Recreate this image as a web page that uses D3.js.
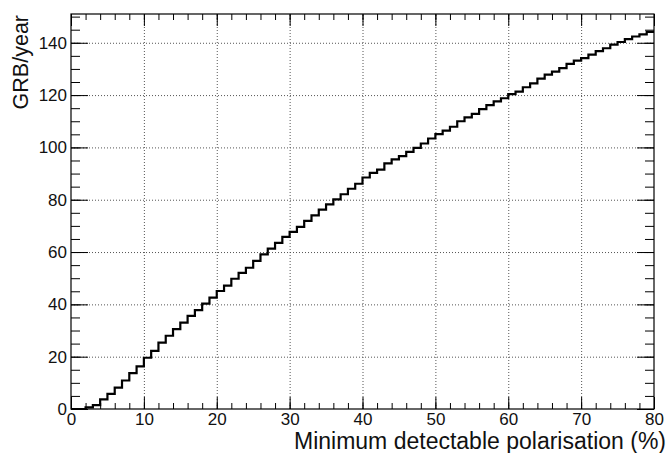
<!DOCTYPE html>
<html>
<head>
<meta charset="utf-8">
<script src="https://cdn.jsdelivr.net/npm/d3@7"></script>
<style>
  body { margin: 0; background: #fff; }
  svg { display: block; }
  .tick text { font-family: "Liberation Sans", Arial, sans-serif; font-size: 17px; fill: #111; }
  .domain { display: none; }
  .grid line { stroke: #555; stroke-dasharray: 1,2; }
</style>
</head>
<body>
<div id="chart"></div>
<script>
// bin lower edges (width 1) and GRB/year per bin
var binEdges = d3.range(0, 81);
var grbPerYear = [
  0, 0, 0.6, 1.5, 3.7, 5.8, 8.2, 10.9, 13.7, 16.3,
  19.6, 22.2, 25.4, 28, 30.5, 33, 35.6, 37.8, 40.3, 42.6,
  45.1, 47.2, 49.8, 52, 54, 56.6, 59.1, 61.3, 63.5, 65.8,
  67.7, 69.6, 71.9, 74, 76.2, 78.2, 80.1, 82.1, 84.2, 86.1,
  88.5, 90.3, 91.5, 93.9, 95.4, 96.7, 98.3, 99.8, 101.5, 103.4,
  105.1, 106.4, 107.9, 110, 111.5, 112.8, 114.6, 116.2, 117.6, 118.8,
  120.4, 121.3, 123, 124.5, 126.3, 127.8, 129, 130.3, 131.9, 133.2,
  134.1, 135.5, 136.8, 137.9, 139.3, 140.3, 141.4, 142.4, 143.2, 144.2
];
var xTicks = [0, 10, 20, 30, 40, 50, 60, 70, 80];
var yTicks = [0, 20, 40, 60, 80, 100, 120, 140];
var xMinor = d3.range(0, 81, 2);
var yMinor = d3.range(0, 151, 5);

var W = 667, H = 453;
var margin = {top: 14, right: 13, bottom: 44, left: 71};
var w = W - margin.left - margin.right;
var h = H - margin.top - margin.bottom;

var svg = d3.select("#chart").append("svg")
  .attr("width", W).attr("height", H);
var g = svg.append("g")
  .attr("transform", "translate(" + margin.left + "," + margin.top + ")");

var x = d3.scaleLinear().domain([0, 80]).range([0, w]);
var y = d3.scaleLinear().domain([0, 151]).range([h, 0]);

// grid
g.append("g").attr("class", "grid")
  .attr("transform", "translate(0," + h + ")")
  .call(d3.axisBottom(x).tickValues(xTicks.slice(1, -1)).tickSize(-h).tickFormat(""));
g.append("g").attr("class", "grid")
  .call(d3.axisLeft(y).tickValues(yTicks.slice(1)).tickSize(-w).tickFormat(""));

// histogram steps
var pts = [];
grbPerYear.forEach(function(v, i) {
  pts.push([x(binEdges[i]), y(v)]);
  pts.push([x(binEdges[i + 1]), y(v)]);
});
g.append("path")
  .attr("d", d3.line()(pts))
  .attr("fill", "none")
  .attr("stroke", "#000")
  .attr("stroke-width", 2.2);

// ticks: bottom
g.append("g").attr("transform", "translate(0," + h + ")")
  .call(d3.axisBottom(x).tickValues(xTicks).tickSize(-12).tickPadding(4).tickFormat(d3.format("d")));
g.append("g").attr("transform", "translate(0," + h + ")")
  .call(d3.axisBottom(x).tickValues(xMinor).tickSize(-6).tickFormat(""));
// top
g.append("g")
  .call(d3.axisTop(x).tickValues(xTicks).tickSize(-12).tickFormat(""));
g.append("g")
  .call(d3.axisTop(x).tickValues(xMinor).tickSize(-6).tickFormat(""));
// left
g.append("g")
  .call(d3.axisLeft(y).tickValues(yTicks).tickSize(-17).tickPadding(4).tickFormat(d3.format("d")));
g.append("g")
  .call(d3.axisLeft(y).tickValues(yMinor).tickSize(-9).tickFormat(""));
// right
g.append("g").attr("transform", "translate(" + w + ",0)")
  .call(d3.axisRight(y).tickValues(yTicks).tickSize(-17).tickFormat(""));
g.append("g").attr("transform", "translate(" + w + ",0)")
  .call(d3.axisRight(y).tickValues(yMinor).tickSize(-9).tickFormat(""));

g.selectAll(".tick line").attr("stroke", "#000");
g.selectAll(".grid .tick line").attr("stroke", "#555");

// frame
g.append("rect")
  .attr("width", w).attr("height", h)
  .attr("fill", "none").attr("stroke", "#000").attr("stroke-width", 1.2);

// axis titles
svg.append("text")
  .attr("x", W - 1).attr("y", H - 4)
  .attr("text-anchor", "end")
  .style("font-family", "Liberation Sans, Arial, sans-serif")
  .style("font-size", "23px")
  .style("fill", "#111")
  .text("Minimum detectable polarisation (%)");
svg.append("text")
  .attr("transform", "translate(28," + (margin.top + 1) + ") rotate(-90)")
  .attr("text-anchor", "end")
  .style("font-family", "Liberation Sans, Arial, sans-serif")
  .style("font-size", "21.5px")
  .style("fill", "#111")
  .text("GRB/year");
</script>
</body>
</html>
